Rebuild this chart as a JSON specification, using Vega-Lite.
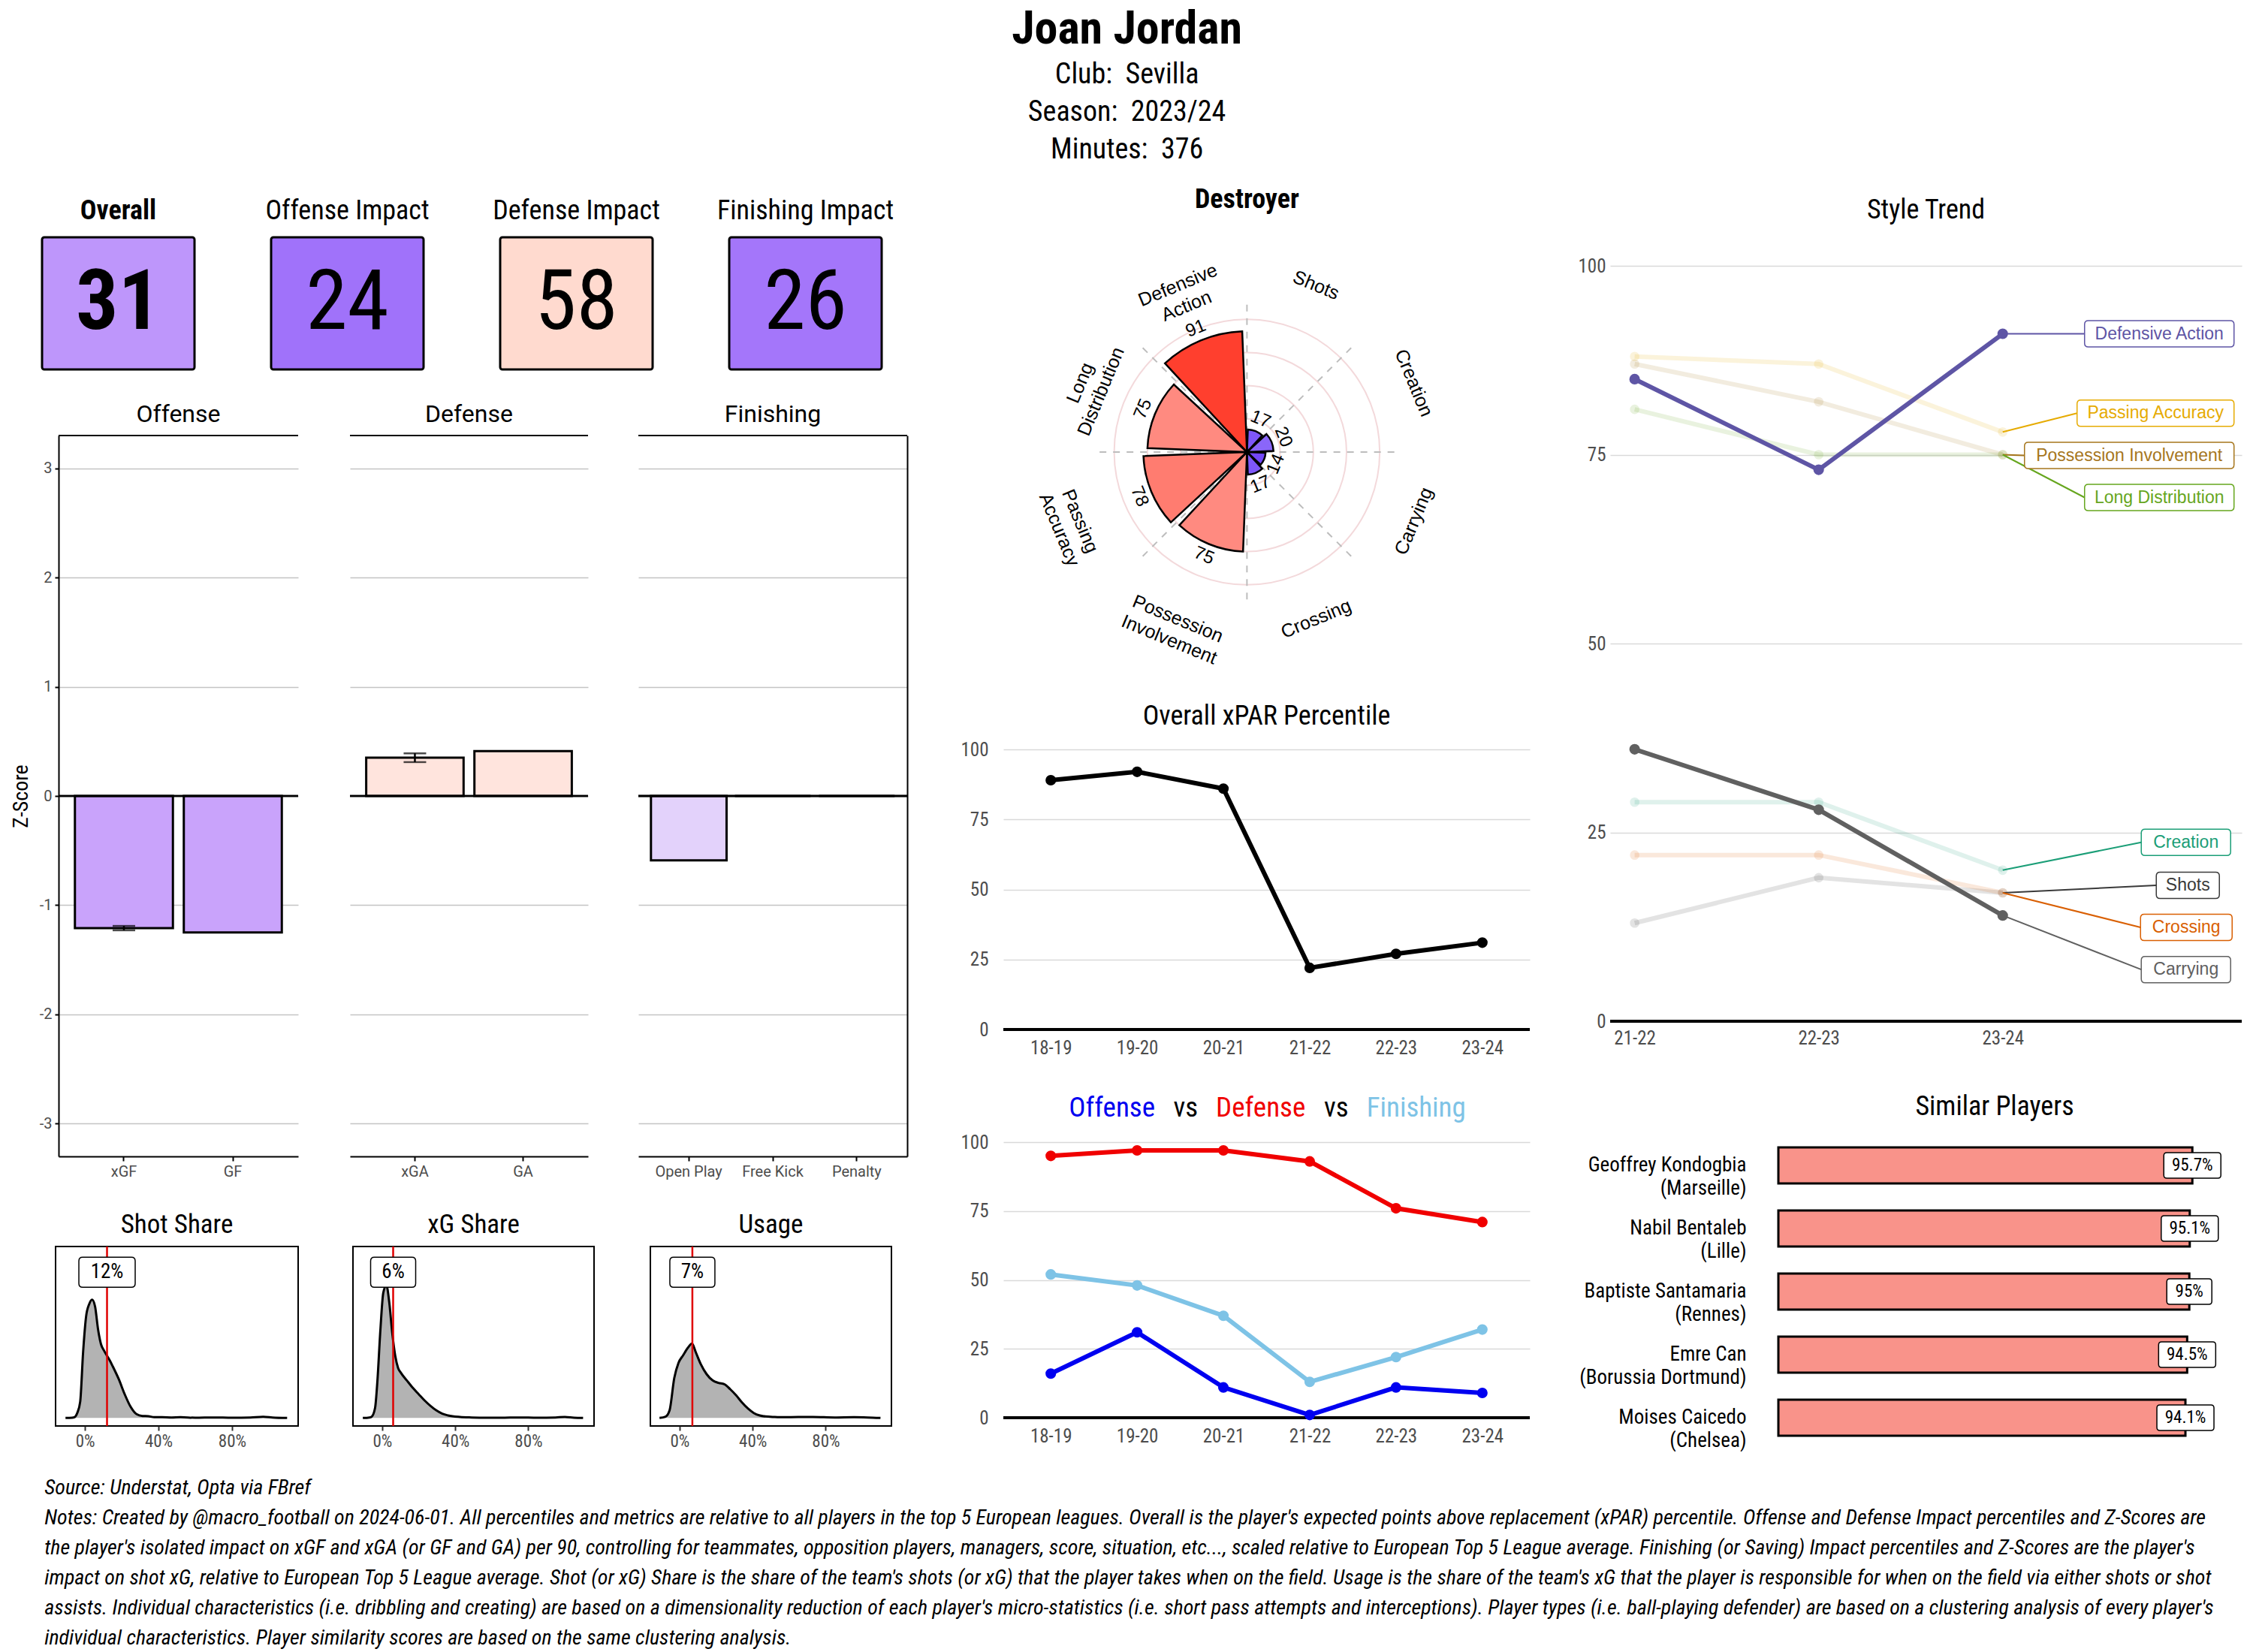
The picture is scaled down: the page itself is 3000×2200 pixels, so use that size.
{
"$schema": "https://vega.github.io/schema/vega-lite/v6.json",
"background": "white",
"padding": {"left": 14, "top": 8, "right": 6, "bottom": 4},
"title": {"text": "Joan Jordan", "subtitle": ["Club:\u00a0 Sevilla", "Season:\u00a0 2023/24", "Minutes:\u00a0 376"], "anchor": "middle", "frame": "bounds", "font": "Roboto Condensed, Liberation Sans Narrow, DejaVu Sans Condensed, sans-serif", "fontSize": 62, "fontWeight": "bold", "color": "black", "subtitleFont": "Roboto Condensed, Liberation Sans Narrow, DejaVu Sans Condensed, sans-serif", "subtitleFontSize": 38, "subtitleColor": "black", "subtitleLineHeight": 50, "subtitlePadding": 10, "offset": 26},
"config": {
  "view": {"stroke": null},
  "title": {"frame": "group", "anchor": "middle", "fontWeight": "normal", "color": "black", "font": "Roboto Condensed, Liberation Sans Narrow, DejaVu Sans Condensed, sans-serif"},
  "axis": {"labelFont": "Roboto Condensed, Liberation Sans Narrow, DejaVu Sans Condensed, sans-serif", "titleFont": "Roboto Condensed, Liberation Sans Narrow, DejaVu Sans Condensed, sans-serif"}
},
"datasets": {
  "kpi": [
    {"metric": "Overall", "percentile": 31},
    {"metric": "Offense Impact", "percentile": 24},
    {"metric": "Defense Impact", "percentile": 58},
    {"metric": "Finishing Impact", "percentile": 26}
  ],
  "zscores": [
    {"panel": "Offense", "metric": "xGF", "z": -1.21, "lo": -1.23, "hi": -1.19},
    {"panel": "Offense", "metric": "GF", "z": -1.25},
    {"panel": "Defense", "metric": "xGA", "z": 0.35, "lo": 0.31, "hi": 0.39},
    {"panel": "Defense", "metric": "GA", "z": 0.41},
    {"panel": "Finishing", "metric": "Open Play", "z": -0.59},
    {"panel": "Finishing", "metric": "Free Kick", "z": 0},
    {"panel": "Finishing", "metric": "Penalty", "z": 0}
  ],
  "shares": [
    {"stat": "Shot Share", "share": 0.12},
    {"stat": "xG Share", "share": 0.06},
    {"stat": "Usage", "share": 0.07}
  ],
  "density": [
    {"stat": "Shot Share", "share": -0.106, "density": 0},
    {"stat": "Shot Share", "share": -0.07, "density": 0.01},
    {"stat": "Shot Share", "share": -0.058, "density": 0.03},
    {"stat": "Shot Share", "share": -0.042, "density": 0.2},
    {"stat": "Shot Share", "share": -0.026, "density": 0.65},
    {"stat": "Shot Share", "share": -0.01, "density": 2.65},
    {"stat": "Shot Share", "share": 0.006, "density": 4.05},
    {"stat": "Shot Share", "share": 0.023, "density": 4.55},
    {"stat": "Shot Share", "share": 0.039, "density": 4.73},
    {"stat": "Shot Share", "share": 0.055, "density": 4.45},
    {"stat": "Shot Share", "share": 0.071, "density": 3.55},
    {"stat": "Shot Share", "share": 0.087, "density": 2.95},
    {"stat": "Shot Share", "share": 0.103, "density": 2.7},
    {"stat": "Shot Share", "share": 0.119, "density": 2.5},
    {"stat": "Shot Share", "share": 0.135, "density": 2.3},
    {"stat": "Shot Share", "share": 0.152, "density": 2.05},
    {"stat": "Shot Share", "share": 0.184, "density": 1.55},
    {"stat": "Shot Share", "share": 0.216, "density": 0.95},
    {"stat": "Shot Share", "share": 0.248, "density": 0.45},
    {"stat": "Shot Share", "share": 0.281, "density": 0.15},
    {"stat": "Shot Share", "share": 0.313, "density": 0.08},
    {"stat": "Shot Share", "share": 0.345, "density": 0.07},
    {"stat": "Shot Share", "share": 0.377, "density": 0.03},
    {"stat": "Shot Share", "share": 0.42, "density": 0.03},
    {"stat": "Shot Share", "share": 0.47, "density": 0.02},
    {"stat": "Shot Share", "share": 0.52, "density": 0.03},
    {"stat": "Shot Share", "share": 0.6, "density": 0.01},
    {"stat": "Shot Share", "share": 0.7, "density": 0.02},
    {"stat": "Shot Share", "share": 0.8, "density": 0.01},
    {"stat": "Shot Share", "share": 0.9, "density": 0.02},
    {"stat": "Shot Share", "share": 0.97, "density": 0.05},
    {"stat": "Shot Share", "share": 1.02, "density": 0.02},
    {"stat": "Shot Share", "share": 1.1, "density": 0},
    {"stat": "xG Share", "share": -0.106, "density": 0},
    {"stat": "xG Share", "share": -0.07, "density": 0.02},
    {"stat": "xG Share", "share": -0.058, "density": 0.05},
    {"stat": "xG Share", "share": -0.039, "density": 0.4},
    {"stat": "xG Share", "share": -0.026, "density": 1.5},
    {"stat": "xG Share", "share": -0.01, "density": 3.5},
    {"stat": "xG Share", "share": 0.006, "density": 5.0},
    {"stat": "xG Share", "share": 0.023, "density": 5.3},
    {"stat": "xG Share", "share": 0.039, "density": 4.6},
    {"stat": "xG Share", "share": 0.055, "density": 3.4},
    {"stat": "xG Share", "share": 0.071, "density": 2.5},
    {"stat": "xG Share", "share": 0.087, "density": 2.0},
    {"stat": "xG Share", "share": 0.103, "density": 1.8},
    {"stat": "xG Share", "share": 0.135, "density": 1.5},
    {"stat": "xG Share", "share": 0.168, "density": 1.2},
    {"stat": "xG Share", "share": 0.2, "density": 0.95},
    {"stat": "xG Share", "share": 0.232, "density": 0.7},
    {"stat": "xG Share", "share": 0.265, "density": 0.48},
    {"stat": "xG Share", "share": 0.297, "density": 0.3},
    {"stat": "xG Share", "share": 0.329, "density": 0.17},
    {"stat": "xG Share", "share": 0.361, "density": 0.1},
    {"stat": "xG Share", "share": 0.426, "density": 0.04},
    {"stat": "xG Share", "share": 0.49, "density": 0.02},
    {"stat": "xG Share", "share": 0.57, "density": 0.01},
    {"stat": "xG Share", "share": 0.65, "density": 0.01},
    {"stat": "xG Share", "share": 0.75, "density": 0.02},
    {"stat": "xG Share", "share": 0.85, "density": 0.01},
    {"stat": "xG Share", "share": 0.95, "density": 0.02},
    {"stat": "xG Share", "share": 1.0, "density": 0.04},
    {"stat": "xG Share", "share": 1.05, "density": 0.01},
    {"stat": "xG Share", "share": 1.1, "density": 0},
    {"stat": "Usage", "share": -0.11, "density": 0},
    {"stat": "Usage", "share": -0.077, "density": 0.05},
    {"stat": "Usage", "share": -0.055, "density": 0.3},
    {"stat": "Usage", "share": -0.029, "density": 1.6},
    {"stat": "Usage", "share": -0.006, "density": 2.2},
    {"stat": "Usage", "share": 0.019, "density": 2.5},
    {"stat": "Usage", "share": 0.045, "density": 2.8},
    {"stat": "Usage", "share": 0.068, "density": 2.97},
    {"stat": "Usage", "share": 0.09, "density": 2.6},
    {"stat": "Usage", "share": 0.116, "density": 2.15},
    {"stat": "Usage", "share": 0.148, "density": 1.75},
    {"stat": "Usage", "share": 0.181, "density": 1.5},
    {"stat": "Usage", "share": 0.213, "density": 1.4},
    {"stat": "Usage", "share": 0.245, "density": 1.35},
    {"stat": "Usage", "share": 0.277, "density": 1.15},
    {"stat": "Usage", "share": 0.31, "density": 0.9},
    {"stat": "Usage", "share": 0.342, "density": 0.62},
    {"stat": "Usage", "share": 0.374, "density": 0.38},
    {"stat": "Usage", "share": 0.406, "density": 0.2},
    {"stat": "Usage", "share": 0.439, "density": 0.1},
    {"stat": "Usage", "share": 0.471, "density": 0.06},
    {"stat": "Usage", "share": 0.52, "density": 0.04},
    {"stat": "Usage", "share": 0.568, "density": 0.03},
    {"stat": "Usage", "share": 0.65, "density": 0.04},
    {"stat": "Usage", "share": 0.73, "density": 0.04},
    {"stat": "Usage", "share": 0.85, "density": 0.02},
    {"stat": "Usage", "share": 0.955, "density": 0.03},
    {"stat": "Usage", "share": 1.03, "density": 0.02},
    {"stat": "Usage", "share": 1.1, "density": 0}
  ],
  "styles": [
    {"style": "Shots", "k": 1, "percentile": 17},
    {"style": "Creation", "k": 2, "percentile": 20},
    {"style": "Carrying", "k": 3, "percentile": 14},
    {"style": "Crossing", "k": 4, "percentile": 17},
    {"style": "Possession Involvement", "k": 5, "percentile": 75},
    {"style": "Passing Accuracy", "k": 6, "percentile": 78},
    {"style": "Long Distribution", "k": 7, "percentile": 75},
    {"style": "Defensive Action", "k": 8, "percentile": 91}
  ],
  "xpar": [
    {"season": "18-19", "percentile": 89},
    {"season": "19-20", "percentile": 92},
    {"season": "20-21", "percentile": 86},
    {"season": "21-22", "percentile": 22},
    {"season": "22-23", "percentile": 27},
    {"season": "23-24", "percentile": 31}
  ],
  "ovd": [
    {"season": "18-19", "metric": "Defense", "percentile": 95},
    {"season": "19-20", "metric": "Defense", "percentile": 97},
    {"season": "20-21", "metric": "Defense", "percentile": 97},
    {"season": "21-22", "metric": "Defense", "percentile": 93},
    {"season": "22-23", "metric": "Defense", "percentile": 76},
    {"season": "23-24", "metric": "Defense", "percentile": 71},
    {"season": "18-19", "metric": "Finishing", "percentile": 52},
    {"season": "19-20", "metric": "Finishing", "percentile": 48},
    {"season": "20-21", "metric": "Finishing", "percentile": 37},
    {"season": "21-22", "metric": "Finishing", "percentile": 13},
    {"season": "22-23", "metric": "Finishing", "percentile": 22},
    {"season": "23-24", "metric": "Finishing", "percentile": 32},
    {"season": "18-19", "metric": "Offense", "percentile": 16},
    {"season": "19-20", "metric": "Offense", "percentile": 31},
    {"season": "20-21", "metric": "Offense", "percentile": 11},
    {"season": "21-22", "metric": "Offense", "percentile": 1},
    {"season": "22-23", "metric": "Offense", "percentile": 11},
    {"season": "23-24", "metric": "Offense", "percentile": 9}
  ],
  "trend": [
    {"season": "21-22", "style": "Defensive Action", "percentile": 85},
    {"season": "22-23", "style": "Defensive Action", "percentile": 73},
    {"season": "23-24", "style": "Defensive Action", "percentile": 91},
    {"season": "21-22", "style": "Passing Accuracy", "percentile": 88},
    {"season": "22-23", "style": "Passing Accuracy", "percentile": 87},
    {"season": "23-24", "style": "Passing Accuracy", "percentile": 78},
    {"season": "21-22", "style": "Possession Involvement", "percentile": 87},
    {"season": "22-23", "style": "Possession Involvement", "percentile": 82},
    {"season": "23-24", "style": "Possession Involvement", "percentile": 75},
    {"season": "21-22", "style": "Long Distribution", "percentile": 81},
    {"season": "22-23", "style": "Long Distribution", "percentile": 75},
    {"season": "23-24", "style": "Long Distribution", "percentile": 75},
    {"season": "21-22", "style": "Creation", "percentile": 29},
    {"season": "22-23", "style": "Creation", "percentile": 29},
    {"season": "23-24", "style": "Creation", "percentile": 20},
    {"season": "21-22", "style": "Shots", "percentile": 13},
    {"season": "22-23", "style": "Shots", "percentile": 19},
    {"season": "23-24", "style": "Shots", "percentile": 17},
    {"season": "21-22", "style": "Crossing", "percentile": 22},
    {"season": "22-23", "style": "Crossing", "percentile": 22},
    {"season": "23-24", "style": "Crossing", "percentile": 17},
    {"season": "21-22", "style": "Carrying", "percentile": 36},
    {"season": "22-23", "style": "Carrying", "percentile": 28},
    {"season": "23-24", "style": "Carrying", "percentile": 14}
  ],
  "similar": [
    {"player": "Geoffrey Kondogbia (Marseille)", "similarity": 0.957},
    {"player": "Nabil Bentaleb (Lille)", "similarity": 0.951},
    {"player": "Baptiste Santamaria (Rennes)", "similarity": 0.95},
    {"player": "Emre Can (Borussia Dortmund)", "similarity": 0.945},
    {"player": "Moises Caicedo (Chelsea)", "similarity": 0.941}
  ]
},
"resolve": {"scale": {"color": "independent", "shape": "independent", "stroke": "independent", "angle": "independent"}},
"vconcat": [
{
  "title": {"text": ["Source: Understat, Opta via FBref", "Notes: Created by @macro_football on 2024-06-01. All percentiles and metrics are relative to all players in the top 5 European leagues. Overall is the player's expected points above replacement (xPAR) percentile. Offense and Defense Impact percentiles and Z-Scores are", "the player's isolated impact on xGF and xGA (or GF and GA) per 90, controlling for teammates, opposition players, managers, score, situation, etc..., scaled relative to European Top 5 League average. Finishing (or Saving) Impact percentiles and Z-Scores are the player's", "impact on shot xG, relative to European Top 5 League average. Shot (or xG) Share is the share of the team's shots (or xG) that the player takes when on the field. Usage is the share of the team's xG that the player is responsible for when on the field via either shots or shot", "assists. Individual characteristics (i.e. dribbling and creating) are based on a dimensionality reduction of each player's micro-statistics (i.e. short pass attempts and interceptions). Player types (i.e. ball-playing defender) are based on a clustering analysis of every player's", "individual characteristics. Player similarity scores are based on the same clustering analysis."], "orient": "bottom", "anchor": "start", "frame": "bounds", "align": "left", "font": "Roboto Condensed, Liberation Sans Narrow, DejaVu Sans Condensed, sans-serif", "fontSize": 28, "fontStyle": "italic", "fontWeight": "normal", "lineHeight": 40, "offset": 36, "dx": 45, "color": "black"},
  "spacing": 68,
  "resolve": {"scale": {"color": "independent", "shape": "independent", "stroke": "independent", "angle": "independent"}},
  "hconcat": [
    {
      "spacing": 0,
      "vconcat": [
        {"width": 1, "height": 15, "data": {"values": []}, "mark": "point"},
        {
          "spacing": 42,
          "vconcat": [
            {
              "bounds": "flush",
              "spacing": 102,
              "hconcat": [
                {
                  "width": 203, "height": 176,
                  "title": {"text": "Overall", "fontSize": 36, "fontWeight": "bold", "offset": 16},
                  "view": {"fill": "#BE96FB", "stroke": "black", "strokeWidth": 3, "cornerRadius": 3},
                  "data": {"name": "kpi"},
                  "transform": [{"filter": "datum.metric == 'Overall'"}],
                  "mark": {"type": "text", "font": "Roboto Condensed, Liberation Sans Narrow, DejaVu Sans Condensed, sans-serif", "fontSize": 112, "fontWeight": "bold", "color": "black", "baseline": "middle"},
                  "encoding": {"text": {"field": "percentile", "type": "quantitative"}}
                },
                {
                  "width": 203, "height": 176,
                  "title": {"text": "Offense Impact", "fontSize": 36, "offset": 16},
                  "view": {"fill": "#A072FA", "stroke": "black", "strokeWidth": 3, "cornerRadius": 3},
                  "data": {"name": "kpi"},
                  "transform": [{"filter": "datum.metric == 'Offense Impact'"}],
                  "mark": {"type": "text", "font": "Roboto Condensed, Liberation Sans Narrow, DejaVu Sans Condensed, sans-serif", "fontSize": 112, "color": "black", "baseline": "middle"},
                  "encoding": {"text": {"field": "percentile", "type": "quantitative"}}
                },
                {
                  "width": 203, "height": 176,
                  "title": {"text": "Defense Impact", "fontSize": 36, "offset": 16},
                  "view": {"fill": "#FFDACF", "stroke": "black", "strokeWidth": 3, "cornerRadius": 3},
                  "data": {"name": "kpi"},
                  "transform": [{"filter": "datum.metric == 'Defense Impact'"}],
                  "mark": {"type": "text", "font": "Roboto Condensed, Liberation Sans Narrow, DejaVu Sans Condensed, sans-serif", "fontSize": 112, "color": "black", "baseline": "middle"},
                  "encoding": {"text": {"field": "percentile", "type": "quantitative"}}
                },
                {
                  "width": 203, "height": 176,
                  "title": {"text": "Finishing Impact", "fontSize": 36, "offset": 16},
                  "view": {"fill": "#A476FA", "stroke": "black", "strokeWidth": 3, "cornerRadius": 3},
                  "data": {"name": "kpi"},
                  "transform": [{"filter": "datum.metric == 'Finishing Impact'"}],
                  "mark": {"type": "text", "font": "Roboto Condensed, Liberation Sans Narrow, DejaVu Sans Condensed, sans-serif", "fontSize": 112, "color": "black", "baseline": "middle"},
                  "encoding": {"text": {"field": "percentile", "type": "quantitative"}}
                }
              ]
            },
            {
              "bounds": "flush",
              "spacing": 0,
              "hconcat": [
                {"width": 22, "height": 1, "data": {"values": []}, "mark": "point"},
                {
                  "width": 319, "height": 960,
                  "title": {"text": "Offense", "font": "Roboto, Liberation Sans, sans-serif", "fontSize": 32, "offset": 10},
                  "data": {"name": "zscores"},
                  "transform": [{"filter": "datum.panel == 'Offense'"}],
                  "layer": [
                    {"mark": {"type": "bar", "fill": "#C9A3FB", "stroke": "black", "strokeWidth": 3},
                     "encoding": {
                       "x": {"field": "metric", "type": "nominal", "sort": ["xGF", "GF"], "scale": {"paddingInner": 0.1, "paddingOuter": 0.15}, "axis": {"title": null, "labelAngle": 0, "labelFont": "Roboto, Liberation Sans, sans-serif", "labelFontSize": 20, "labelColor": "#4D4D4D", "domainColor": "black", "domainWidth": 2, "tickColor": "black", "tickWidth": 2, "tickSize": 6, "labelPadding": 4}},
                       "y": {"field": "z", "type": "quantitative", "scale": {"domain": [-3.3, 3.3], "nice": false, "zero": false}, "axis": {"values": [-3, -2, -1, 0, 1, 2, 3], "labelExpr": "'' + datum.value", "title": "Z-Score", "titleFontSize": 28, "titleFontWeight": "normal", "titleColor": "black", "titlePadding": 10, "labelFont": "Roboto, Liberation Sans, sans-serif", "labelFontSize": 20, "labelColor": "#4D4D4D", "tickColor": "black", "tickWidth": 2, "tickSize": 5, "domainColor": "black", "domainWidth": 2, "labelPadding": 4, "grid": true, "gridColor": "#C4C4C4", "gridWidth": 1.5}}
                     }},
                    {"mark": {"type": "rule", "color": "black", "strokeWidth": 2.5}, "encoding": {"y": {"datum": 0, "scale": {"domain": [-3.3, 3.3], "nice": false, "zero": false}}}},
                    {"mark": {"type": "rule", "color": "black", "strokeWidth": 2}, "encoding": {"y": {"datum": 3.3, "scale": {"domain": [-3.3, 3.3], "nice": false, "zero": false}}}},
                    {"transform": [{"filter": "isValid(datum.lo)"}],
                     "mark": {"type": "errorbar", "ticks": true, "color": "black", "thickness": 2.5, "size": 30},
                     "encoding": {
                       "x": {"field": "metric", "type": "nominal", "sort": ["xGF", "GF"]},
                       "y": {"field": "lo", "type": "quantitative", "title": "Z-Score", "scale": {"domain": [-3.3, 3.3], "nice": false, "zero": false}},
                       "y2": {"field": "hi"}
                     }}
                  ]
                },
                {"width": 69, "height": 1, "data": {"values": []}, "mark": "point"},
                {
                  "width": 317, "height": 960,
                  "title": {"text": "Defense", "font": "Roboto, Liberation Sans, sans-serif", "fontSize": 32, "offset": 10},
                  "data": {"name": "zscores"},
                  "transform": [{"filter": "datum.panel == 'Defense'"}],
                  "layer": [
                    {"mark": {"type": "bar", "fill": "#FFE4DD", "stroke": "black", "strokeWidth": 3},
                     "encoding": {
                       "x": {"field": "metric", "type": "nominal", "sort": ["xGA", "GA"], "scale": {"paddingInner": 0.1, "paddingOuter": 0.15}, "axis": {"title": null, "labelAngle": 0, "labelFont": "Roboto, Liberation Sans, sans-serif", "labelFontSize": 20, "labelColor": "#4D4D4D", "domainColor": "black", "domainWidth": 2, "tickColor": "black", "tickWidth": 2, "tickSize": 6, "labelPadding": 4}},
                       "y": {"field": "z", "type": "quantitative", "scale": {"domain": [-3.3, 3.3], "nice": false, "zero": false}, "axis": {"values": [-3, -2, -1, 0, 1, 2, 3], "title": null, "labels": false, "ticks": false, "domain": false, "grid": true, "gridColor": "#C4C4C4", "gridWidth": 1.5}}
                     }},
                    {"mark": {"type": "rule", "color": "black", "strokeWidth": 2.5}, "encoding": {"y": {"datum": 0, "scale": {"domain": [-3.3, 3.3], "nice": false, "zero": false}}}},
                    {"mark": {"type": "rule", "color": "black", "strokeWidth": 2}, "encoding": {"y": {"datum": 3.3, "scale": {"domain": [-3.3, 3.3], "nice": false, "zero": false}}}},
                    {"transform": [{"filter": "isValid(datum.lo)"}],
                     "mark": {"type": "errorbar", "ticks": true, "color": "black", "thickness": 2.5, "size": 30},
                     "encoding": {
                       "x": {"field": "metric", "type": "nominal", "sort": ["xGA", "GA"]},
                       "y": {"field": "lo", "type": "quantitative", "title": null, "scale": {"domain": [-3.3, 3.3], "nice": false, "zero": false}},
                       "y2": {"field": "hi"}
                     }}
                  ]
                },
                {"width": 67, "height": 1, "data": {"values": []}, "mark": "point"},
                {
                  "width": 358, "height": 960,
                  "title": {"text": "Finishing", "font": "Roboto, Liberation Sans, sans-serif", "fontSize": 32, "offset": 10},
                  "data": {"name": "zscores"},
                  "transform": [{"filter": "datum.panel == 'Finishing'"}],
                  "layer": [
                    {"mark": {"type": "bar", "fill": "#E3D2FB", "stroke": "black", "strokeWidth": 3},
                     "encoding": {
                       "x": {"field": "metric", "type": "nominal", "sort": ["Open Play", "Free Kick", "Penalty"], "scale": {"paddingInner": 0.1, "paddingOuter": 0.15}, "axis": {"title": null, "labelAngle": 0, "labelFont": "Roboto, Liberation Sans, sans-serif", "labelFontSize": 20, "labelColor": "#4D4D4D", "domainColor": "black", "domainWidth": 2, "tickColor": "black", "tickWidth": 2, "tickSize": 6, "labelPadding": 4}},
                       "y": {"field": "z", "type": "quantitative", "scale": {"domain": [-3.3, 3.3], "nice": false, "zero": false}, "axis": {"orient": "right", "values": [-3, -2, -1, 0, 1, 2, 3], "title": null, "labels": false, "ticks": false, "domain": true, "domainColor": "black", "domainWidth": 2, "grid": true, "gridColor": "#C4C4C4", "gridWidth": 1.5}}
                     }},
                    {"mark": {"type": "rule", "color": "black", "strokeWidth": 2.5}, "encoding": {"y": {"datum": 0, "scale": {"domain": [-3.3, 3.3], "nice": false, "zero": false}}}},
                    {"mark": {"type": "rule", "color": "black", "strokeWidth": 2}, "encoding": {"y": {"datum": 3.3, "scale": {"domain": [-3.3, 3.3], "nice": false, "zero": false}}}}
                  ]
                }
              ]
            },
            {
              "bounds": "flush",
              "spacing": 0,
              "hconcat": [
                {"width": 18, "height": 1, "data": {"values": []}, "mark": "point"},
                {
                  "width": 323, "height": 239,
                  "title": {"text": "Shot Share", "fontSize": 35, "offset": 10},
                  "view": {"stroke": "black", "strokeWidth": 2},
                  "layer": [
                    {"data": {"name": "density"}, "transform": [{"filter": "datum.stat == 'Shot Share'"}],
                     "mark": {"type": "area", "color": "#B3B3B3", "interpolate": "monotone"},
                     "encoding": {
                       "x": {"field": "share", "type": "quantitative", "scale": {"domain": [-0.16, 1.16], "nice": false, "zero": false}, "axis": {"values": [0, 0.4, 0.8], "format": ".0%", "title": null, "labelFontSize": 23, "labelColor": "#4D4D4D", "tickColor": "#333333", "tickSize": 6, "tickWidth": 2, "domain": false, "grid": false, "labelPadding": 3}},
                       "y": {"field": "density", "type": "quantitative", "scale": {"domain": [-0.32, 6.85], "nice": false, "zero": false}, "axis": null},
                       "y2": {"datum": 0}
                     }},
                    {"data": {"name": "density"}, "transform": [{"filter": "datum.stat == 'Shot Share'"}],
                     "mark": {"type": "line", "color": "black", "strokeWidth": 3, "interpolate": "monotone"},
                     "encoding": {
                       "x": {"field": "share", "type": "quantitative", "scale": {"domain": [-0.16, 1.16], "nice": false, "zero": false}},
                       "y": {"field": "density", "type": "quantitative", "scale": {"domain": [-0.32, 6.85], "nice": false, "zero": false}, "axis": null}
                     }},
                    {"data": {"name": "shares"}, "transform": [{"filter": "datum.stat == 'Shot Share'"}],
                     "mark": {"type": "rule", "color": "#E00000", "strokeWidth": 2.5},
                     "encoding": {"x": {"field": "share", "type": "quantitative", "scale": {"domain": [-0.16, 1.16], "nice": false, "zero": false}}}},
                    {"data": {"name": "shares"}, "transform": [{"filter": "datum.stat == 'Shot Share'"}],
                     "mark": {"type": "point", "shape": "M-0.65,-0.4L0.65,-0.4Q0.75,-0.4 0.75,-0.3L0.75,0.3Q0.75,0.4 0.65,0.4L-0.65,0.4Q-0.75,0.4 -0.75,0.3L-0.75,-0.3Q-0.75,-0.4 -0.65,-0.4Z", "size": 10000, "filled": true, "fill": "white", "stroke": "black", "strokeWidth": 1.5, "opacity": 1},
                     "encoding": {"x": {"field": "share", "type": "quantitative", "scale": {"domain": [-0.16, 1.16], "nice": false, "zero": false}}, "y": {"datum": 5.82, "scale": {"domain": [-0.32, 6.85], "nice": false, "zero": false}, "axis": null}}},
                    {"data": {"name": "shares"}, "transform": [{"filter": "datum.stat == 'Shot Share'"}],
                     "mark": {"type": "text", "font": "Roboto Condensed, Liberation Sans Narrow, DejaVu Sans Condensed, sans-serif", "fontSize": 27, "color": "black"},
                     "encoding": {"x": {"field": "share", "type": "quantitative", "scale": {"domain": [-0.16, 1.16], "nice": false, "zero": false}}, "y": {"datum": 5.82, "scale": {"domain": [-0.32, 6.85], "nice": false, "zero": false}, "axis": null}, "text": {"field": "share", "type": "quantitative", "format": ".0%"}}}
                  ]
                },
                {"width": 73, "height": 1, "data": {"values": []}, "mark": "point"},
                {
                  "width": 321, "height": 239,
                  "title": {"text": "xG Share", "fontSize": 35, "offset": 10},
                  "view": {"stroke": "black", "strokeWidth": 2},
                  "layer": [
                    {"data": {"name": "density"}, "transform": [{"filter": "datum.stat == 'xG Share'"}],
                     "mark": {"type": "area", "color": "#B3B3B3", "interpolate": "monotone"},
                     "encoding": {
                       "x": {"field": "share", "type": "quantitative", "scale": {"domain": [-0.16, 1.16], "nice": false, "zero": false}, "axis": {"values": [0, 0.4, 0.8], "format": ".0%", "title": null, "labelFontSize": 23, "labelColor": "#4D4D4D", "tickColor": "#333333", "tickSize": 6, "tickWidth": 2, "domain": false, "grid": false, "labelPadding": 3}},
                       "y": {"field": "density", "type": "quantitative", "scale": {"domain": [-0.32, 6.85], "nice": false, "zero": false}, "axis": null},
                       "y2": {"datum": 0}
                     }},
                    {"data": {"name": "density"}, "transform": [{"filter": "datum.stat == 'xG Share'"}],
                     "mark": {"type": "line", "color": "black", "strokeWidth": 3, "interpolate": "monotone"},
                     "encoding": {
                       "x": {"field": "share", "type": "quantitative", "scale": {"domain": [-0.16, 1.16], "nice": false, "zero": false}},
                       "y": {"field": "density", "type": "quantitative", "scale": {"domain": [-0.32, 6.85], "nice": false, "zero": false}, "axis": null}
                     }},
                    {"data": {"name": "shares"}, "transform": [{"filter": "datum.stat == 'xG Share'"}],
                     "mark": {"type": "rule", "color": "#E00000", "strokeWidth": 2.5},
                     "encoding": {"x": {"field": "share", "type": "quantitative", "scale": {"domain": [-0.16, 1.16], "nice": false, "zero": false}}}},
                    {"data": {"name": "shares"}, "transform": [{"filter": "datum.stat == 'xG Share'"}],
                     "mark": {"type": "point", "shape": "M-0.5,-0.4L0.5,-0.4Q0.6,-0.4 0.6,-0.3L0.6,0.3Q0.6,0.4 0.5,0.4L-0.5,0.4Q-0.6,0.4 -0.6,0.3L-0.6,-0.3Q-0.6,-0.4 -0.5,-0.4Z", "size": 10000, "filled": true, "fill": "white", "stroke": "black", "strokeWidth": 1.5, "opacity": 1},
                     "encoding": {"x": {"field": "share", "type": "quantitative", "scale": {"domain": [-0.16, 1.16], "nice": false, "zero": false}}, "y": {"datum": 5.82, "scale": {"domain": [-0.32, 6.85], "nice": false, "zero": false}, "axis": null}}},
                    {"data": {"name": "shares"}, "transform": [{"filter": "datum.stat == 'xG Share'"}],
                     "mark": {"type": "text", "font": "Roboto Condensed, Liberation Sans Narrow, DejaVu Sans Condensed, sans-serif", "fontSize": 27, "color": "black"},
                     "encoding": {"x": {"field": "share", "type": "quantitative", "scale": {"domain": [-0.16, 1.16], "nice": false, "zero": false}}, "y": {"datum": 5.82, "scale": {"domain": [-0.32, 6.85], "nice": false, "zero": false}, "axis": null}, "text": {"field": "share", "type": "quantitative", "format": ".0%"}}}
                  ]
                },
                {"width": 75, "height": 1, "data": {"values": []}, "mark": "point"},
                {
                  "width": 321, "height": 239,
                  "title": {"text": "Usage", "fontSize": 35, "offset": 10},
                  "view": {"stroke": "black", "strokeWidth": 2},
                  "layer": [
                    {"data": {"name": "density"}, "transform": [{"filter": "datum.stat == 'Usage'"}],
                     "mark": {"type": "area", "color": "#B3B3B3", "interpolate": "monotone"},
                     "encoding": {
                       "x": {"field": "share", "type": "quantitative", "scale": {"domain": [-0.16, 1.16], "nice": false, "zero": false}, "axis": {"values": [0, 0.4, 0.8], "format": ".0%", "title": null, "labelFontSize": 23, "labelColor": "#4D4D4D", "tickColor": "#333333", "tickSize": 6, "tickWidth": 2, "domain": false, "grid": false, "labelPadding": 3}},
                       "y": {"field": "density", "type": "quantitative", "scale": {"domain": [-0.32, 6.85], "nice": false, "zero": false}, "axis": null},
                       "y2": {"datum": 0}
                     }},
                    {"data": {"name": "density"}, "transform": [{"filter": "datum.stat == 'Usage'"}],
                     "mark": {"type": "line", "color": "black", "strokeWidth": 3, "interpolate": "monotone"},
                     "encoding": {
                       "x": {"field": "share", "type": "quantitative", "scale": {"domain": [-0.16, 1.16], "nice": false, "zero": false}},
                       "y": {"field": "density", "type": "quantitative", "scale": {"domain": [-0.32, 6.85], "nice": false, "zero": false}, "axis": null}
                     }},
                    {"data": {"name": "shares"}, "transform": [{"filter": "datum.stat == 'Usage'"}],
                     "mark": {"type": "rule", "color": "#E00000", "strokeWidth": 2.5},
                     "encoding": {"x": {"field": "share", "type": "quantitative", "scale": {"domain": [-0.16, 1.16], "nice": false, "zero": false}}}},
                    {"data": {"name": "shares"}, "transform": [{"filter": "datum.stat == 'Usage'"}],
                     "mark": {"type": "point", "shape": "M-0.5,-0.4L0.5,-0.4Q0.6,-0.4 0.6,-0.3L0.6,0.3Q0.6,0.4 0.5,0.4L-0.5,0.4Q-0.6,0.4 -0.6,0.3L-0.6,-0.3Q-0.6,-0.4 -0.5,-0.4Z", "size": 10000, "filled": true, "fill": "white", "stroke": "black", "strokeWidth": 1.5, "opacity": 1},
                     "encoding": {"x": {"field": "share", "type": "quantitative", "scale": {"domain": [-0.16, 1.16], "nice": false, "zero": false}}, "y": {"datum": 5.82, "scale": {"domain": [-0.32, 6.85], "nice": false, "zero": false}, "axis": null}}},
                    {"data": {"name": "shares"}, "transform": [{"filter": "datum.stat == 'Usage'"}],
                     "mark": {"type": "text", "font": "Roboto Condensed, Liberation Sans Narrow, DejaVu Sans Condensed, sans-serif", "fontSize": 27, "color": "black"},
                     "encoding": {"x": {"field": "share", "type": "quantitative", "scale": {"domain": [-0.16, 1.16], "nice": false, "zero": false}}, "y": {"datum": 5.82, "scale": {"domain": [-0.32, 6.85], "nice": false, "zero": false}, "axis": null}, "text": {"field": "share", "type": "quantitative", "format": ".0%"}}}
                  ]
                }
              ]
            }
          ]
        }
      ]
    },
    {
      "spacing": 61,
      "resolve": {"scale": {"color": "independent", "shape": "independent", "stroke": "independent", "angle": "independent"}},
      "hconcat": [
        {
          "spacing": 0,
          "resolve": {"scale": {"color": "independent", "angle": "independent"}},
          "vconcat": [
            {"width": 1, "height": 1, "data": {"values": []}, "mark": "point"},
            {
              "center": true,
              "spacing": 46,
              "resolve": {"scale": {"color": "independent", "angle": "independent"}},
              "vconcat": [
                {
                  "width": 396, "height": 396,
                  "title": {"text": "Destroyer", "fontSize": 36, "fontWeight": "bold", "offset": 63},
                  "data": {"name": "styles"},
                  "layer": [
                    {"data": {"values": [{}]}, "mark": {"type": "arc", "theta": 0, "theta2": 6.2832, "filled": false, "stroke": "#F3D9DB", "strokeWidth": 2}, "encoding": {"radius": {"datum": 25, "scale": {"type": "linear", "domain": [0, 112], "range": [0, 198], "zero": true, "nice": false}}}},
                    {"data": {"values": [{}]}, "mark": {"type": "arc", "theta": 0, "theta2": 6.2832, "filled": false, "stroke": "#F3D9DB", "strokeWidth": 2}, "encoding": {"radius": {"datum": 50, "scale": {"type": "linear", "domain": [0, 112], "range": [0, 198], "zero": true, "nice": false}}}},
                    {"data": {"values": [{}]}, "mark": {"type": "arc", "theta": 0, "theta2": 6.2832, "filled": false, "stroke": "#F3D9DB", "strokeWidth": 2}, "encoding": {"radius": {"datum": 75, "scale": {"type": "linear", "domain": [0, 112], "range": [0, 198], "zero": true, "nice": false}}}},
                    {"data": {"values": [{}]}, "mark": {"type": "arc", "theta": 0, "theta2": 6.2832, "filled": false, "stroke": "#F3D9DB", "strokeWidth": 2}, "encoding": {"radius": {"datum": 100, "scale": {"type": "linear", "domain": [0, 112], "range": [0, 198], "zero": true, "nice": false}}}},
                    {"mark": {"type": "arc", "filled": false, "stroke": "#BDBDBD", "strokeWidth": 2, "thetaOffset": 0.3927, "theta2Offset": 0.3927, "strokeDash": [9, 9, 9, 9, 9, 9, 9, 9, 9, 9, 9, 9, 9, 9, 9, 9, 9, 9, 9, 9, 9, 9, 0, 400]},
                     "encoding": {"theta": {"field": "k", "type": "quantitative", "stack": null, "scale": {"domain": [0.5, 8.5], "range": [0, 6.2832], "zero": false, "nice": false}}, "theta2": {"field": "k"}, "radius": {"datum": 111, "scale": {"type": "linear", "domain": [0, 112], "range": [0, 198], "zero": true, "nice": false}}}},
                    {"mark": {"type": "arc", "stroke": "black", "strokeWidth": 2.5, "thetaOffset": -0.3534, "theta2Offset": 0.3534},
                     "encoding": {"theta": {"field": "k", "type": "quantitative", "stack": null, "scale": {"domain": [0.5, 8.5], "range": [0, 6.2832], "zero": false, "nice": false}}, "theta2": {"field": "k"}, "radius": {"field": "percentile", "type": "quantitative", "scale": {"type": "linear", "domain": [0, 112], "range": [0, 198], "zero": true, "nice": false}}, "color": {"field": "percentile", "type": "quantitative", "scale": {"domain": [0, 50, 100], "range": ["#3C00F5", "#FFFFFF", "#FF1500"], "interpolate": "rgb"}, "legend": null}}},
                    {"mark": {"type": "text", "font": "Liberation Sans, Arial, sans-serif", "fontSize": 24, "radiusOffset": 17, "color": "black"},
                     "encoding": {"theta": {"field": "k", "type": "quantitative", "stack": null, "scale": {"domain": [0.5, 8.5], "range": [0, 6.2832], "zero": false, "nice": false}}, "radius": {"field": "percentile", "type": "quantitative", "scale": {"type": "linear", "domain": [0, 112], "range": [0, 198], "zero": true, "nice": false}}, "text": {"field": "percentile", "type": "quantitative"}, "angle": {"field": "k", "type": "quantitative", "scale": {"domain": [1, 2, 3, 4, 5, 6, 7, 8], "range": [22.5, 67.5, -67.5, -22.5, 22.5, 67.5, -67.5, -22.5], "zero": false, "nice": false}, "legend": null}}},
                    {"mark": {"type": "text", "font": "Liberation Sans, Arial, sans-serif", "fontSize": 25, "lineBreak": " ", "lineHeight": 30, "color": "black"},
                     "encoding": {"theta": {"field": "k", "type": "quantitative", "stack": null, "scale": {"domain": [0.5, 8.5], "range": [0, 6.2832], "zero": false, "nice": false}}, "radius": {"datum": 136, "scale": {"type": "linear", "domain": [0, 112], "range": [0, 198], "zero": true, "nice": false}}, "text": {"field": "style", "type": "nominal"}, "angle": {"field": "k", "type": "quantitative", "scale": {"domain": [1, 2, 3, 4, 5, 6, 7, 8], "range": [22.5, 67.5, -67.5, -22.5, 22.5, 67.5, -67.5, -22.5], "zero": false, "nice": false}, "legend": null}}}
                  ]
                },
                {
                  "center": true,
                  "spacing": 48,
                  "resolve": {"scale": {"color": "independent"}},
                  "vconcat": [
                    {
                      "width": 701, "height": 373,
                      "title": {"text": "Overall xPAR Percentile", "fontSize": 36, "offset": 13},
                      "layer": [
                        {"data": {"values": [{}]}, "mark": {"type": "rule", "color": "black", "strokeWidth": 4}, "encoding": {"y": {"datum": 0, "scale": {"domain": [0, 100], "nice": false, "zero": true}, "axis": {"values": [0, 25, 50, 75, 100], "title": null, "labelFontSize": 25, "labelColor": "#4D4D4D", "ticks": false, "domain": false, "grid": true, "gridColor": "#D9D9D9", "gridWidth": 1.5, "labelPadding": 20}}}},
                        {"data": {"name": "xpar"}, "mark": {"type": "line", "color": "black", "strokeWidth": 6},
                         "encoding": {"x": {"field": "season", "type": "ordinal", "scale": {"type": "point", "padding": 0.55}, "axis": {"title": null, "labelAngle": 0, "labelFontSize": 25, "labelColor": "#4D4D4D", "ticks": false, "domain": false, "grid": false, "labelPadding": 12}}, "y": {"field": "percentile", "type": "quantitative", "scale": {"domain": [0, 100], "nice": false, "zero": true}, "axis": {"values": [0, 25, 50, 75, 100], "title": null, "labelFontSize": 25, "labelColor": "#4D4D4D", "ticks": false, "domain": false, "grid": true, "gridColor": "#D9D9D9", "gridWidth": 1.5, "labelPadding": 20}}}},
                        {"data": {"name": "xpar"}, "mark": {"type": "point", "filled": true, "color": "black", "size": 200, "opacity": 1},
                         "encoding": {"x": {"field": "season", "type": "ordinal", "scale": {"type": "point", "padding": 0.55}}, "y": {"field": "percentile", "type": "quantitative", "scale": {"domain": [0, 100], "nice": false, "zero": true}}}}
                      ]
                    },
                    {
                      "center": true,
                      "spacing": 13,
                      "vconcat": [
                        {
                          "bounds": "flush",
                          "spacing": 24,
                          "hconcat": [
                            {"width": 115, "height": 40, "data": {"values": [{"word": "Offense"}]}, "mark": {"type": "text", "font": "Roboto Condensed, Liberation Sans Narrow, DejaVu Sans Condensed, sans-serif", "fontSize": 37, "color": "#0000F0"}, "encoding": {"text": {"field": "word", "type": "nominal"}}},
                            {"width": 33, "height": 40, "data": {"values": [{"word": "vs"}]}, "mark": {"type": "text", "font": "Roboto Condensed, Liberation Sans Narrow, DejaVu Sans Condensed, sans-serif", "fontSize": 37, "color": "black"}, "encoding": {"text": {"field": "word", "type": "nominal"}}},
                            {"width": 119, "height": 40, "data": {"values": [{"word": "Defense"}]}, "mark": {"type": "text", "font": "Roboto Condensed, Liberation Sans Narrow, DejaVu Sans Condensed, sans-serif", "fontSize": 37, "color": "#F00000"}, "encoding": {"text": {"field": "word", "type": "nominal"}}},
                            {"width": 34, "height": 40, "data": {"values": [{"word": "vs"}]}, "mark": {"type": "text", "font": "Roboto Condensed, Liberation Sans Narrow, DejaVu Sans Condensed, sans-serif", "fontSize": 37, "color": "black"}, "encoding": {"text": {"field": "word", "type": "nominal"}}},
                            {"width": 131, "height": 40, "data": {"values": [{"word": "Finishing"}]}, "mark": {"type": "text", "font": "Roboto Condensed, Liberation Sans Narrow, DejaVu Sans Condensed, sans-serif", "fontSize": 37, "color": "#7EC3E6"}, "encoding": {"text": {"field": "word", "type": "nominal"}}}
                          ]
                        },
                        {
                          "width": 701, "height": 367,
                          "layer": [
                            {"data": {"values": [{}]}, "mark": {"type": "rule", "color": "black", "strokeWidth": 4}, "encoding": {"y": {"datum": 0, "scale": {"domain": [0, 100], "nice": false, "zero": true}, "axis": {"values": [0, 25, 50, 75, 100], "title": null, "labelFontSize": 25, "labelColor": "#4D4D4D", "ticks": false, "domain": false, "grid": true, "gridColor": "#D9D9D9", "gridWidth": 1.5, "labelPadding": 20}}}},
                            {"data": {"name": "ovd"}, "mark": {"type": "line", "strokeWidth": 6},
                             "encoding": {"x": {"field": "season", "type": "ordinal", "scale": {"type": "point", "padding": 0.55}, "axis": {"title": null, "labelAngle": 0, "labelFontSize": 25, "labelColor": "#4D4D4D", "ticks": false, "domain": false, "grid": false, "labelPadding": 12}}, "y": {"field": "percentile", "type": "quantitative", "scale": {"domain": [0, 100], "nice": false, "zero": true}, "axis": {"values": [0, 25, 50, 75, 100], "title": null, "labelFontSize": 25, "labelColor": "#4D4D4D", "ticks": false, "domain": false, "grid": true, "gridColor": "#D9D9D9", "gridWidth": 1.5, "labelPadding": 20}}, "color": {"field": "metric", "type": "nominal", "scale": {"domain": ["Offense", "Defense", "Finishing"], "range": ["#0000F0", "#F00000", "#7EC3E6"]}, "legend": null}}},
                            {"data": {"name": "ovd"}, "mark": {"type": "point", "filled": true, "size": 200, "opacity": 1},
                             "encoding": {"x": {"field": "season", "type": "ordinal", "scale": {"type": "point", "padding": 0.55}}, "y": {"field": "percentile", "type": "quantitative", "scale": {"domain": [0, 100], "nice": false, "zero": true}}, "color": {"field": "metric", "type": "nominal", "scale": {"domain": ["Offense", "Defense", "Finishing"], "range": ["#0000F0", "#F00000", "#7EC3E6"]}, "legend": null}}}
                          ]
                        }
                      ]
                    }
                  ]
                }
              ]
            }
          ]
        },
        {
          "spacing": 0,
          "resolve": {"scale": {"color": "independent", "shape": "independent", "stroke": "independent"}},
          "vconcat": [
            {"width": 1, "height": 16, "data": {"values": []}, "mark": "point"},
            {
              "spacing": 61,
              "resolve": {"scale": {"color": "independent", "shape": "independent", "stroke": "independent"}},
              "vconcat": [
                {
                  "width": 841, "height": 1006,
                  "title": {"text": "Style Trend", "fontSize": 36, "offset": 43},
                  "data": {"name": "trend"},
                  "layer": [
                    {"data": {"values": [{}]}, "mark": {"type": "rule", "color": "black", "strokeWidth": 4}, "encoding": {"y": {"datum": 0, "scale": {"domain": [0, 100], "nice": false, "zero": true}, "axis": {"values": [0, 25, 50, 75, 100], "title": null, "labelFontSize": 25, "labelColor": "#4D4D4D", "ticks": false, "domain": false, "grid": true, "gridColor": "#D9D9D9", "gridWidth": 1.5, "labelPadding": 6}}}},
                    {"transform": [{"filter": "datum.style != 'Defensive Action' && datum.style != 'Carrying'"}],
                     "mark": {"type": "line", "strokeWidth": 6, "opacity": 0.14},
                     "encoding": {
                       "x": {"field": "season", "type": "ordinal", "scale": {"type": "point", "padding": 0.716, "align": 0.093}, "axis": {"title": null, "labelAngle": 0, "labelFontSize": 25, "labelColor": "#4D4D4D", "ticks": false, "domain": false, "grid": false, "labelPadding": 10}},
                       "y": {"field": "percentile", "type": "quantitative", "scale": {"domain": [0, 100], "nice": false, "zero": true}, "axis": {"values": [0, 25, 50, 75, 100], "title": null, "labelFontSize": 25, "labelColor": "#4D4D4D", "ticks": false, "domain": false, "grid": true, "gridColor": "#D9D9D9", "gridWidth": 1.5, "labelPadding": 6}},
                       "color": {"field": "style", "type": "nominal", "scale": {"domain": ["Defensive Action", "Passing Accuracy", "Possession Involvement", "Long Distribution", "Creation", "Shots", "Crossing", "Carrying"], "range": ["#5E55A5", "#E6AB02", "#A6761D", "#66A61E", "#1B9E77", "#3A3A3A", "#D95F02", "#606060"]}, "legend": null}
                     }},
                    {"transform": [{"filter": "datum.style != 'Defensive Action' && datum.style != 'Carrying'"}],
                     "mark": {"type": "point", "filled": true, "size": 160, "opacity": 0.14},
                     "encoding": {
                       "x": {"field": "season", "type": "ordinal", "scale": {"type": "point", "padding": 0.716, "align": 0.093}},
                       "y": {"field": "percentile", "type": "quantitative", "scale": {"domain": [0, 100], "nice": false, "zero": true}},
                       "color": {"field": "style", "type": "nominal", "scale": {"domain": ["Defensive Action", "Passing Accuracy", "Possession Involvement", "Long Distribution", "Creation", "Shots", "Crossing", "Carrying"], "range": ["#5E55A5", "#E6AB02", "#A6761D", "#66A61E", "#1B9E77", "#3A3A3A", "#D95F02", "#606060"]}, "legend": null}
                     }},
                    {"transform": [{"filter": "datum.style == 'Defensive Action' || datum.style == 'Carrying'"}],
                     "mark": {"type": "line", "strokeWidth": 6, "opacity": 1},
                     "encoding": {
                       "x": {"field": "season", "type": "ordinal", "scale": {"type": "point", "padding": 0.716, "align": 0.093}},
                       "y": {"field": "percentile", "type": "quantitative", "scale": {"domain": [0, 100], "nice": false, "zero": true}},
                       "color": {"field": "style", "type": "nominal", "scale": {"domain": ["Defensive Action", "Passing Accuracy", "Possession Involvement", "Long Distribution", "Creation", "Shots", "Crossing", "Carrying"], "range": ["#5E55A5", "#E6AB02", "#A6761D", "#66A61E", "#1B9E77", "#3A3A3A", "#D95F02", "#606060"]}, "legend": null}
                     }},
                    {"transform": [{"filter": "datum.style == 'Defensive Action' || datum.style == 'Carrying'"}],
                     "mark": {"type": "point", "filled": true, "size": 200, "opacity": 1},
                     "encoding": {
                       "x": {"field": "season", "type": "ordinal", "scale": {"type": "point", "padding": 0.716, "align": 0.093}},
                       "y": {"field": "percentile", "type": "quantitative", "scale": {"domain": [0, 100], "nice": false, "zero": true}},
                       "color": {"field": "style", "type": "nominal", "scale": {"domain": ["Defensive Action", "Passing Accuracy", "Possession Involvement", "Long Distribution", "Creation", "Shots", "Crossing", "Carrying"], "range": ["#5E55A5", "#E6AB02", "#A6761D", "#66A61E", "#1B9E77", "#3A3A3A", "#D95F02", "#606060"]}, "legend": null}
                     }},
                    {"transform": [{"filter": "datum.season == '23-24'"}],
                     "mark": {"type": "rule", "strokeWidth": 2, "x2Offset": {"expr": "[109,99,29,109,184.5,204.5,183.5,184.5][indexof(['Defensive Action','Passing Accuracy','Possession Involvement','Long Distribution','Creation','Shots','Crossing','Carrying'], datum.style)]"}, "y2Offset": {"expr": "[0,-25,1,57,-37,-10,46,72][indexof(['Defensive Action','Passing Accuracy','Possession Involvement','Long Distribution','Creation','Shots','Crossing','Carrying'], datum.style)]"}},
                     "encoding": {
                       "x": {"field": "season", "type": "ordinal", "scale": {"type": "point", "padding": 0.716, "align": 0.093}},
                       "y": {"field": "percentile", "type": "quantitative", "scale": {"domain": [0, 100], "nice": false, "zero": true}},
                       "x2": {"field": "season"},
                       "y2": {"field": "percentile"},
                       "color": {"field": "style", "type": "nominal", "scale": {"domain": ["Defensive Action", "Passing Accuracy", "Possession Involvement", "Long Distribution", "Creation", "Shots", "Crossing", "Carrying"], "range": ["#5E55A5", "#E6AB02", "#A6761D", "#66A61E", "#1B9E77", "#3A3A3A", "#D95F02", "#606060"]}, "legend": null}
                     }},
                    {"transform": [{"filter": "datum.season == '23-24'"}],
                     "mark": {"type": "point", "filled": true, "fill": "white", "size": 10000, "strokeWidth": 1.5, "opacity": 1, "xOffset": {"expr": "[208.5,203.5,168.5,208.5,244,246.5,244.5,244][indexof(['Defensive Action','Passing Accuracy','Possession Involvement','Long Distribution','Creation','Shots','Crossing','Carrying'], datum.style)]"}, "yOffset": {"expr": "[0,-25,1,57,-37,-10,46,72][indexof(['Defensive Action','Passing Accuracy','Possession Involvement','Long Distribution','Creation','Shots','Crossing','Carrying'], datum.style)]"}},
                     "encoding": {
                       "x": {"field": "season", "type": "ordinal", "scale": {"type": "point", "padding": 0.716, "align": 0.093}},
                       "y": {"field": "percentile", "type": "quantitative", "scale": {"domain": [0, 100], "nice": false, "zero": true}},
                       "shape": {"field": "style", "type": "nominal", "scale": {"domain": ["Defensive Action", "Passing Accuracy", "Possession Involvement", "Long Distribution", "Creation", "Shots", "Crossing", "Carrying"], "range": ["M-1.89,-0.35L1.89,-0.35Q1.99,-0.35 1.99,-0.25L1.99,0.25Q1.99,0.35 1.89,0.35L-1.89,0.35Q-1.99,0.35 -1.99,0.25L-1.99,-0.25Q-1.99,-0.35 -1.89,-0.35Z", "M-1.99,-0.35L1.99,-0.35Q2.09,-0.35 2.09,-0.25L2.09,0.25Q2.09,0.35 1.99,0.35L-1.99,0.35Q-2.09,0.35 -2.09,0.25L-2.09,-0.25Q-2.09,-0.35 -1.99,-0.35Z", "M-2.69,-0.35L2.69,-0.35Q2.79,-0.35 2.79,-0.25L2.79,0.25Q2.79,0.35 2.69,0.35L-2.69,0.35Q-2.79,0.35 -2.79,0.25L-2.79,-0.25Q-2.79,-0.35 -2.69,-0.35Z", "M-1.89,-0.35L1.89,-0.35Q1.99,-0.35 1.99,-0.25L1.99,0.25Q1.99,0.35 1.89,0.35L-1.89,0.35Q-1.99,0.35 -1.99,0.25L-1.99,-0.25Q-1.99,-0.35 -1.89,-0.35Z", "M-1.09,-0.35L1.09,-0.35Q1.19,-0.35 1.19,-0.25L1.19,0.25Q1.19,0.35 1.09,0.35L-1.09,0.35Q-1.19,0.35 -1.19,0.25L-1.19,-0.25Q-1.19,-0.35 -1.09,-0.35Z", "M-0.74,-0.35L0.74,-0.35Q0.84,-0.35 0.84,-0.25L0.84,0.25Q0.84,0.35 0.74,0.35L-0.74,0.35Q-0.84,0.35 -0.84,0.25L-0.84,-0.25Q-0.84,-0.35 -0.74,-0.35Z", "M-1.12,-0.35L1.12,-0.35Q1.22,-0.35 1.22,-0.25L1.22,0.25Q1.22,0.35 1.12,0.35L-1.12,0.35Q-1.22,0.35 -1.22,0.25L-1.22,-0.25Q-1.22,-0.35 -1.12,-0.35Z", "M-1.09,-0.35L1.09,-0.35Q1.19,-0.35 1.19,-0.25L1.19,0.25Q1.19,0.35 1.09,0.35L-1.09,0.35Q-1.19,0.35 -1.19,0.25L-1.19,-0.25Q-1.19,-0.35 -1.09,-0.35Z"]}, "legend": null},
                       "stroke": {"field": "style", "type": "nominal", "scale": {"domain": ["Defensive Action", "Passing Accuracy", "Possession Involvement", "Long Distribution", "Creation", "Shots", "Crossing", "Carrying"], "range": ["#5E55A5", "#E6AB02", "#A6761D", "#66A61E", "#1B9E77", "#3A3A3A", "#D95F02", "#606060"]}, "legend": null}
                     }},
                    {"transform": [{"filter": "datum.season == '23-24'"}],
                     "mark": {"type": "text", "font": "Liberation Sans, Arial, sans-serif", "fontSize": 23, "dx": {"expr": "[208.5,203.5,168.5,208.5,244,246.5,244.5,244][indexof(['Defensive Action','Passing Accuracy','Possession Involvement','Long Distribution','Creation','Shots','Crossing','Carrying'], datum.style)]"}, "dy": {"expr": "[0,-25,1,57,-37,-10,46,72][indexof(['Defensive Action','Passing Accuracy','Possession Involvement','Long Distribution','Creation','Shots','Crossing','Carrying'], datum.style)]"}},
                     "encoding": {
                       "x": {"field": "season", "type": "ordinal", "scale": {"type": "point", "padding": 0.716, "align": 0.093}},
                       "y": {"field": "percentile", "type": "quantitative", "scale": {"domain": [0, 100], "nice": false, "zero": true}},
                       "text": {"field": "style", "type": "nominal"},
                       "color": {"field": "style", "type": "nominal", "scale": {"domain": ["Defensive Action", "Passing Accuracy", "Possession Involvement", "Long Distribution", "Creation", "Shots", "Crossing", "Carrying"], "range": ["#5E55A5", "#E6AB02", "#A6761D", "#66A61E", "#1B9E77", "#3A3A3A", "#D95F02", "#606060"]}, "legend": null}
                     }}
                  ]
                },
                {
                  "bounds": "flush",
                  "spacing": 0,
                  "hconcat": [
                    {"width": 224, "height": 1, "data": {"values": []}, "mark": "point"},
                    {
                      "width": 576, "height": 420,
                      "title": {"text": "Similar Players", "fontSize": 36, "offset": 17},
                      "data": {"name": "similar"},
                      "encoding": {"y": {"field": "player", "type": "nominal", "sort": null, "scale": {"paddingInner": 0.43, "paddingOuter": 0.215}, "axis": {"title": null, "labelFontSize": 27, "labelColor": "black", "labelExpr": "[slice(datum.label, 0, indexof(datum.label, ' (')), slice(datum.label, indexof(datum.label, ' (') + 1)]", "labelLineHeight": 31, "ticks": false, "domain": false, "grid": false, "labelPadding": 43, "labelLimit": 500, "labelBaseline": "middle"}}},
                      "layer": [
                        {"mark": {"type": "bar", "fill": "#F9938A", "stroke": "black", "strokeWidth": 3},
                         "encoding": {"x": {"field": "similarity", "type": "quantitative", "scale": {"domain": [0, 1], "nice": false}, "axis": null}}},
                        {"mark": {"type": "point", "filled": true, "fill": "white", "stroke": "black", "strokeWidth": 1.5, "size": 10000, "opacity": 1},
                         "encoding": {"x": {"field": "similarity", "type": "quantitative", "scale": {"domain": [0, 1], "nice": false}, "axis": null}, "shape": {"field": "player", "type": "nominal", "scale": {"domain": ["Geoffrey Kondogbia (Marseille)", "Nabil Bentaleb (Lille)", "Baptiste Santamaria (Rennes)", "Emre Can (Borussia Dortmund)", "Moises Caicedo (Chelsea)"], "range": ["M-0.68,-0.34L0.68,-0.34Q0.76,-0.34 0.76,-0.26L0.76,0.26Q0.76,0.34 0.68,0.34L-0.68,0.34Q-0.76,0.34 -0.76,0.26L-0.76,-0.26Q-0.76,-0.34 -0.68,-0.34Z", "M-0.68,-0.34L0.68,-0.34Q0.76,-0.34 0.76,-0.26L0.76,0.26Q0.76,0.34 0.68,0.34L-0.68,0.34Q-0.76,0.34 -0.76,0.26L-0.76,-0.26Q-0.76,-0.34 -0.68,-0.34Z", "M-0.52,-0.34L0.52,-0.34Q0.6,-0.34 0.6,-0.26L0.6,0.26Q0.6,0.34 0.52,0.34L-0.52,0.34Q-0.6,0.34 -0.6,0.26L-0.6,-0.26Q-0.6,-0.34 -0.52,-0.34Z", "M-0.68,-0.34L0.68,-0.34Q0.76,-0.34 0.76,-0.26L0.76,0.26Q0.76,0.34 0.68,0.34L-0.68,0.34Q-0.76,0.34 -0.76,0.26L-0.76,-0.26Q-0.76,-0.34 -0.68,-0.34Z", "M-0.68,-0.34L0.68,-0.34Q0.76,-0.34 0.76,-0.26L0.76,0.26Q0.76,0.34 0.68,0.34L-0.68,0.34Q-0.76,0.34 -0.76,0.26L-0.76,-0.26Q-0.76,-0.34 -0.68,-0.34Z"]}, "legend": null}}},
                        {"mark": {"type": "text", "font": "Roboto Condensed, Liberation Sans Narrow, DejaVu Sans Condensed, sans-serif", "fontSize": 23, "color": "black"},
                         "encoding": {"x": {"field": "similarity", "type": "quantitative", "scale": {"domain": [0, 1], "nice": false}, "axis": null}, "text": {"field": "similarity", "type": "quantitative", "format": ".1~%"}}}
                      ]
                    }
                  ]
                }
              ]
            }
          ]
        }
      ]
    }
  ]
}
]
}
